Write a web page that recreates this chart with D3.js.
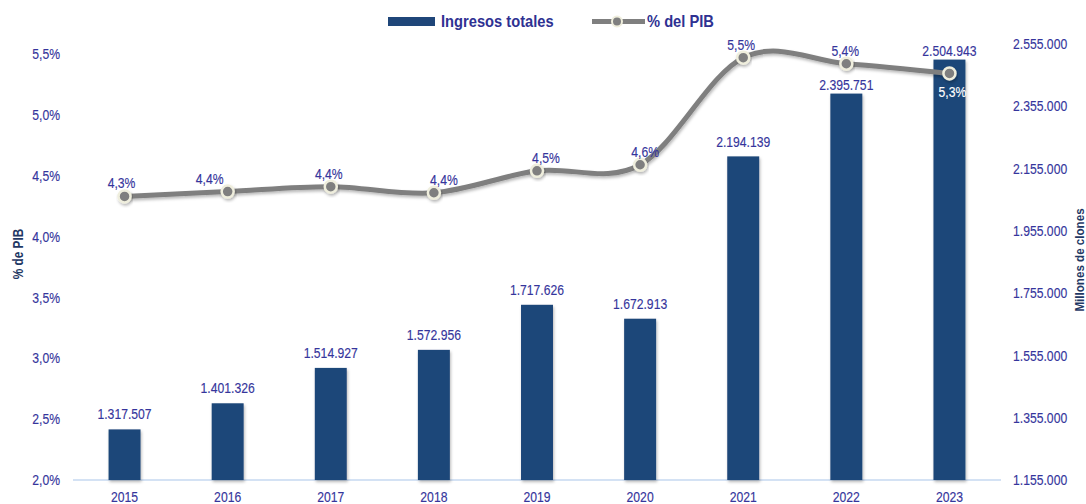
<!DOCTYPE html>
<html><head><meta charset="utf-8">
<script src="https://cdn.jsdelivr.net/npm/d3@7"></script>
<style>
html,body{margin:0;padding:0;background:#fff;}
svg{display:block;font-family:"Liberation Sans Narrow","Arial Narrow","Liberation Sans",Arial,sans-serif;}
</style></head>
<body><svg id="chart" width="1086" height="504"></svg>
<script>
// ---- data ----
const years = ["2015","2016","2017","2018","2019","2020","2021","2022","2023"];
const ingresos = [1317507, 1401326, 1514927, 1572956, 1717626, 1672913, 2194139, 2395751, 2504943];
const pctPIB = [4.33, 4.37, 4.41, 4.36, 4.54, 4.59, 5.47, 5.42, 5.34];
const leftTicks = [2.0, 2.5, 3.0, 3.5, 4.0, 4.5, 5.0, 5.5];
const rightTicks = [1155000, 1355000, 1555000, 1755000, 1955000, 2155000, 2355000, 2555000];
const seriesNames = ["Ingresos totales", "% del PIB"];
const axisTitles = ["% de PIB", "Millones de clones"];

// label nudges (layout only)
const pctLabelDx = [-3, -18, -2, 10, 9, 5, -2, -1, 3];
const barLabelGap = [15, 15, 15, 15, 15, 15, 14, 9, 9];

const locale = d3.formatLocale({decimal: ",", thousands: ".", grouping: [3], currency: ["", ""]});
const fmtPct = v => locale.format(".1f")(v) + "%";
const fmtNum = locale.format(",d");

const svg = d3.select("#chart");
const textCol = "#35359c";
const barCol = "#1f4679";
const fs = "14.5px";

const defs = svg.append("defs");
const f = defs.append("filter").attr("id","shadow").attr("x","-20%").attr("y","-20%").attr("width","140%").attr("height","160%");
f.append("feDropShadow").attr("dx",1).attr("dy",2).attr("stdDeviation",1.5).attr("flood-color","#000").attr("flood-opacity",0.28);

const x = d3.scaleBand().domain(years).range([73, 1001]).paddingInner(0.69).paddingOuter(0.345);
const yL = d3.scaleLinear().domain([2.0, 5.5]).range([480, 54]);
const yR = d3.scaleLinear().domain([1155000, 2555000]).range([480, 44]);

// squeeze text horizontally to mimic a narrow font
function squeeze(sel, k) {
  sel.each(function() {
    const w = this.getComputedTextLength();
    if (w > 0) d3.select(this).attr("textLength", w * k).attr("lengthAdjust", "spacingAndGlyphs");
  });
}
function thicken(sel, col) {
  sel.attr("stroke", col).attr("stroke-width", 0.15);
}

// baseline
svg.append("line").attr("x1", x.range()[0]).attr("x2", x.range()[1])
  .attr("y1", yR(rightTicks[0])).attr("y2", yR(rightTicks[0]))
  .attr("stroke", "#c6d9f0").attr("stroke-width", 1.5);

// left axis
const gL = svg.append("g").attr("transform","translate(63,0)")
  .call(d3.axisLeft(yL).tickValues(leftTicks).tickSize(0).tickPadding(3).tickFormat(fmtPct));
gL.select(".domain").remove();
gL.selectAll("text").attr("fill", textCol).style("font-size",fs).style("font-family","inherit");

// right axis
const gR = svg.append("g").attr("transform","translate(1010,0)")
  .call(d3.axisRight(yR).tickValues(rightTicks).tickSize(0).tickPadding(3).tickFormat(fmtNum));
gR.select(".domain").remove();
gR.selectAll("text").attr("fill", textCol).style("font-size",fs).style("font-family","inherit");

// bottom axis
const gB = svg.append("g").attr("transform","translate(0,480)")
  .call(d3.axisBottom(x).tickSize(0).tickPadding(12));
gB.select(".domain").remove();
gB.selectAll("text").attr("fill", textCol).style("font-size",fs).style("font-family","inherit");

// axis titles
const t1 = svg.append("text").attr("transform","translate(23,254) rotate(-90)")
  .attr("text-anchor","middle").attr("fill","#1f3864").style("font-weight","bold").style("font-size","14px")
  .text(axisTitles[0]);
const t2 = svg.append("text").attr("transform","translate(1084,260) rotate(-90)")
  .attr("text-anchor","middle").attr("fill","#1f3864").style("font-weight","bold").style("font-size","13.5px")
  .text(axisTitles[1]);

// bars
svg.append("g").selectAll("rect").data(years).join("rect")
  .attr("x", d => x(d)).attr("width", x.bandwidth())
  .attr("y", (d,i) => yR(ingresos[i]))
  .attr("height", (d,i) => yR(rightTicks[0]) - yR(ingresos[i]))
  .attr("fill", barCol).attr("filter","url(#shadow)");

// bar labels
const bl = svg.append("g").selectAll("text").data(years).join("text")
  .attr("x", d => x(d) + x.bandwidth()/2)
  .attr("y", (d,i) => yR(ingresos[i]) - barLabelGap[i] + 5)
  .attr("text-anchor","middle").attr("fill", textCol).style("font-size",fs)
  .text((d,i) => fmtNum(ingresos[i]));

// line
const line = d3.line().x((d,i) => x(years[i]) + x.bandwidth()/2).y(d => yL(d)).curve(d3.curveCardinal.tension(0));
svg.append("path").datum(pctPIB).attr("d", line)
  .attr("fill","none").attr("stroke","#7f7f7f").attr("stroke-width",5).attr("filter","url(#shadow)");
svg.append("g").selectAll("circle").data(pctPIB).join("circle")
  .attr("cx", (d,i) => x(years[i]) + x.bandwidth()/2).attr("cy", d => yL(d))
  .attr("r", 6).attr("fill","#7f7f7f").attr("stroke","#efeedd").attr("stroke-width",2.5)
  .attr("filter","url(#shadow)");

// point labels
const last = pctPIB.length - 1;
const pl = svg.append("g").selectAll("text").data(pctPIB).join("text")
  .attr("x", (d,i) => x(years[i]) + x.bandwidth()/2 + pctLabelDx[i])
  .attr("y", (d,i) => i === last ? yL(d) + 24 : yL(d) - 8)
  .attr("text-anchor","middle")
  .attr("fill", (d,i) => i === last ? "#ffffff" : textCol)
  .style("font-size",fs)
  .text(d => fmtPct(d));

// legend
const lg = svg.append("g");
lg.append("rect").attr("x",388).attr("y",17).attr("width",47).attr("height",9).attr("fill",barCol);
const lt1 = lg.append("text").attr("x",441).attr("y",27).attr("fill","#2e3192").style("font-weight","bold").style("font-size","16.5px").text(seriesNames[0]);
lg.append("line").attr("x1",592).attr("x2",645).attr("y1",21.5).attr("y2",21.5).attr("stroke","#7f7f7f").attr("stroke-width",5);
lg.append("circle").attr("cx",617).attr("cy",21.5).attr("r",5).attr("fill","#7f7f7f").attr("stroke","#efeedd").attr("stroke-width",2);
const lt2 = lg.append("text").attr("x",647).attr("y",27).attr("fill","#2e3192").style("font-weight","bold").style("font-size","16.5px").text(seriesNames[1]);

// narrow-font emulation
squeeze(gL.selectAll("text"), 0.84);
squeeze(gR.selectAll("text"), 0.84);
squeeze(gB.selectAll("text"), 0.84);
squeeze(bl, 0.84);
squeeze(pl, 0.84);
squeeze(t1, 0.84);
squeeze(t2, 0.86);
squeeze(lt1, 0.89);
squeeze(lt2, 0.89);
thicken(gL.selectAll("text"), textCol);
thicken(gR.selectAll("text"), textCol);
thicken(gB.selectAll("text"), textCol);
thicken(bl, textCol);
pl.attr("stroke", (d,i) => i === last ? "#ffffff" : textCol).attr("stroke-width", 0.15);
</script></body></html>
